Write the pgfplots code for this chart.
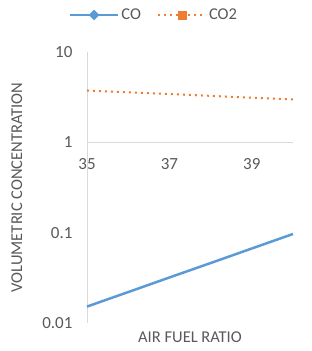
\documentclass[border=0pt]{standalone}
\usepackage{pgfplots}
\pgfplotsset{compat=1.18}
\usepackage{fontspec}
\setmainfont{Carlito}
\definecolor{coblue}{HTML}{5B9BD5}
\definecolor{cooran}{HTML}{ED7D31}
\definecolor{txtgray}{HTML}{595959}
\definecolor{axgray}{HTML}{D9D9D9}
\pgfplotsset{
  colegend/.style={legend image code/.code={
    \draw[coblue, line width=2.5pt] (0pt,0pt) -- (48pt,0pt);
    \fill[coblue] (24pt,5pt) -- (29pt,0pt) -- (24pt,-5pt) -- (19pt,0pt) -- cycle;}},
  cotwolegend/.style={legend image code/.code={
    \draw[cooran, line width=2pt, dash pattern=on 2pt off 4pt] (0pt,0pt) -- (48pt,0pt);
    \fill[cooran] (20pt,-4pt) rectangle (28pt,4pt);}},
}
\begin{document}
\begin{tikzpicture}
\useasboundingbox (0,0) rectangle (312pt,351pt);
\begin{axis}[
  at={(87pt,28pt)}, anchor=south west,
  scale only axis, width=206pt, height=271pt,
  xmin=35, xmax=40, ymode=log, ymin=0.01, ymax=10,
  axis x line=middle, axis y line=left,
  axis line style={draw=axgray, line width=0.8pt, -},
  hide obscured x ticks=false,
  xtick={35,37,39}, xticklabels={35,37,39},
  ytick={0.01,0.1,1,10}, yticklabels={0.01,0.1,1,10},
  minor tick num=0, minor tick length=0pt, major tick length=0pt,
  ytick style={draw=none}, xtick style={draw=none},
  /pgf/number format/assume math mode=true,
  tick label style={font=\fontsize{17}{19}\selectfont, text=txtgray},
  xticklabel style={anchor=north, yshift=-13pt},
  yticklabel style={anchor=east, xshift=-11pt},
  xlabel={AIR FUEL RATIO},
  ylabel={VOLUMETRIC CONCENTRATION},
  label style={font=\fontsize{16.5}{18}\selectfont, text=txtgray},
  xlabel style={at={(axis description cs:0.5,0)}, anchor=base, yshift=-19pt, inner sep=0pt},
  ylabel style={at={(axis description cs:-0.3155,0.5)}, anchor=base, inner sep=0pt},
  legend columns=2,
  legend style={at={(axis description cs:0.325,1.1365)}, anchor=center, draw=none, fill=none,
    font=\fontsize{16.5}{18}\selectfont, text=txtgray,
    /tikz/every even column/.append style={column sep=14pt}},
  legend cell align=left,
  clip=false,
]
\addplot[coblue, line width=2.5pt, forget plot] coordinates {
  (35,0.0152) (36,0.0220) (37,0.0319) (38,0.0461) (39,0.0668) (40,0.0967)};
\addplot[cooran, line width=2pt, dash pattern=on 2pt off 4pt, forget plot] coordinates {
  (35,3.75) (36,3.58) (37,3.42) (38,3.27) (39,3.12) (40,2.98)};
\addlegendimage{colegend}
\addlegendentry{CO}
\addlegendimage{cotwolegend}
\addlegendentry{CO2}
\end{axis}
\end{tikzpicture}
\end{document}
